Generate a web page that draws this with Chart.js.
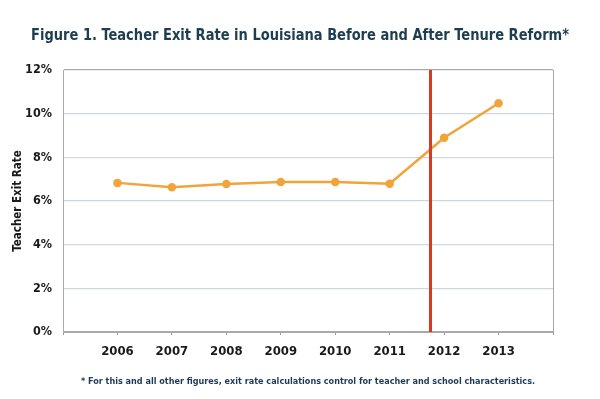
<!DOCTYPE html>
<html lang="en">
<head>
<meta charset="UTF-8">
<title>Teacher Exit Rate in Louisiana</title>
<style>
  html, body { margin: 0; padding: 0; background: #fff; }
  #wrap { width: 600px; height: 399px; }
</style>
</head>
<body>
<div id="wrap"><canvas id="myChart" width="600" height="399"></canvas></div>
<script src="https://cdn.jsdelivr.net/npm/chart.js"></script>
<script>
var years = [2006, 2007, 2008, 2009, 2010, 2011, 2012, 2013];
var exitRate = [6.83, 6.63, 6.78, 6.87, 6.87, 6.79, 8.9, 10.48];
var reformYear = 2011.75;
var yTicks = [0, 2, 4, 6, 8, 10, 12];

var condensed = "'DejaVu Sans Condensed', 'Liberation Sans Narrow', sans-serif";

var points = years.map(function (y, i) { return { x: y, y: exitRate[i] }; });
var reformLine = [{ x: reformYear, y: yTicks[0] }, { x: reformYear, y: yTicks[yTicks.length - 1] }];

// let the y axis use the left page margin too, so its labels are not clipped
var widenYAxis = {
    id: 'widenYAxis',
    afterLayout: function (chart) {
        var s = chart.scales.y;
        s.width += s.left;
        s.left = 0;
    }
};

new Chart(document.getElementById('myChart').getContext('2d'), {
    type: 'line',
    data: {
        datasets: [{
            label: 'Reform',
            data: reformLine,
            borderColor: '#d63a22',
            borderWidth: 3,
            pointRadius: 0,
            order: 0
        }, {
            label: 'Teacher Exit Rate',
            data: points,
            borderColor: '#f2a33a',
            backgroundColor: '#f2a33a',
            borderWidth: 2.5,
            pointRadius: 3,
            tension: 0,
            order: 1
        }]
    },
    options: {
        responsive: false,
        animation: false,
        // side padding narrows the title box so the long title is squeezed to the reference width
        layout: { padding: { left: 31, right: 31, top: 0, bottom: 0 } },
        plugins: {
            legend: { display: false },
            tooltip: { enabled: false },
            title: {
                display: true,
                text: 'Figure 1. Teacher Exit Rate in Louisiana Before and After Tenure Reform*',
                color: '#1d3d50',
                font: { family: condensed, size: 16, weight: 'bold', lineHeight: 1.2 },
                padding: { top: 26, bottom: 24.8 }
            }
        },
        scales: {
            x: {
                type: 'linear',
                min: 2005,
                max: 2014,
                afterFit: function (s) { s.height = 67; },
                afterBuildTicks: function (s) {
                    s.ticks = [];
                    for (var v = 2005; v <= 2014; v++) s.ticks.push({ value: v });
                },
                ticks: {
                    color: '#1a1a1a',
                    padding: 9,
                    font: { family: condensed, size: 13, weight: 'bold' },
                    callback: function (v) { return years.indexOf(v) >= 0 ? String(v) : ''; }
                },
                grid: { drawOnChartArea: false, drawTicks: true, tickLength: 3, color: '#9a9a9a' },
                border: { color: '#a9a9a9', width: 1 },
                title: {
                    display: true,
                    text: '* For this and all other figures, exit rate calculations control for teacher and school characteristics.',
                    color: '#1d3a55',
                    font: { family: condensed, size: 9, weight: 'bold', lineHeight: 1.2 },
                    padding: { top: 0, bottom: 11.5 }
                }
            },
            y: {
                min: 0,
                max: 12,
                afterFit: function (s) { s.width = 32; },
                afterBuildTicks: function (s) {
                    s.ticks = yTicks.map(function (v) { return { value: v }; });
                },
                ticks: {
                    color: '#1a1a1a',
                    padding: 11,
                    font: { family: condensed, size: 12.5, weight: 'bold' },
                    callback: function (v) { return v + '%'; }
                },
                grid: {
                    drawTicks: false,
                    color: function (c) {
                        var v = c.tick.value;
                        return (v === 0 || v === 12) ? '#a9a9a9' : '#cdd7df';
                    },
                    lineWidth: 1.2
                },
                border: { color: '#a9a9a9', width: 1 },
                title: {
                    display: true,
                    text: 'Teacher Exit Rate',
                    color: '#1a1a1a',
                    font: { family: condensed, size: 11.5, weight: 'bold', lineHeight: 1.2 },
                    padding: { top: 11, bottom: 0 }
                }
            },
            frameRight: {
                type: 'linear',
                position: 'right',
                min: 0,
                max: 12,
                afterFit: function (s) { s.width = 16; },
                ticks: { display: false },
                grid: { drawOnChartArea: false, drawTicks: false },
                border: { color: '#a9a9a9', width: 1 }
            }
        }
    },
    plugins: [widenYAxis]
});
</script>
</body>
</html>
